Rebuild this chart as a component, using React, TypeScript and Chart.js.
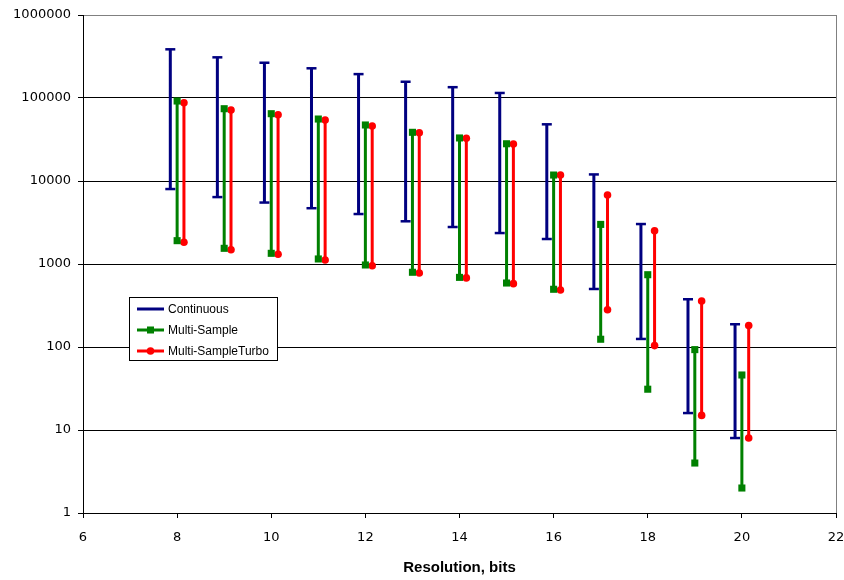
import React, { useEffect, useRef } from "react";
import { Chart, registerables } from "chart.js";

Chart.register(...registerables);

const resolutions = [8, 9, 10, 11, 12, 13, 14, 15, 16, 17, 18, 19, 20];
const continuousHigh = [386000, 309000, 266000, 228000, 194000, 157000, 135000, 115000, 48200, 12000, 3030, 376, 188];
const continuousLow = [8000, 6400, 5500, 4700, 4000, 3270, 2790, 2360, 2000, 500, 125, 16, 8];
const multiHigh = [92000, 74300, 64700, 55800, 47300, 38600, 33000, 28100, 11800, 3000, 743, 93, 46];
const multiLow = [1910, 1545, 1345, 1150, 973, 795, 690, 590, 496, 124, 31, 4, 2];
const turboHigh = [87800, 71600, 62900, 54300, 46000, 38200, 32700, 27900, 11800, 6780, 2520, 358, 181];
const turboLow = [1825, 1487, 1308, 1117, 953, 780, 680, 580, 486, 281, 104, 15, 8];
const yTickValues = [1, 10, 100, 1000, 10000, 100000, 1000000];
const seriesNames = ["Continuous", "Multi-Sample", "Multi-SampleTurbo"];
const seriesColors = ["#000080", "#008000", "#ff0000"];
const xOffsets = [-0.145, 0, 0.145];

const FONT = '"Liberation Sans", Arial, sans-serif';
const TICK_FONT = '"DejaVu Sans", sans-serif';

function buildRanges(lows: number[], highs: number[], off: number) {
  const pts: { x: number; y: number | null }[] = [];
  resolutions.forEach((r, i) => {
    pts.push({ x: r + off, y: lows[i] });
    pts.push({ x: r + off, y: highs[i] });
    pts.push({ x: r + off, y: null });
  });
  return pts;
}

const frameAndLegend = {
  id: "frameAndLegend",
  afterDatasetsDraw(chart: any) {
    const { ctx, chartArea } = chart;
    ctx.save();
    // gray right border
    ctx.strokeStyle = "#808080";
    ctx.lineWidth = 1;
    ctx.beginPath();
    ctx.moveTo(Math.round(chartArea.right) + 0.5, chartArea.top);
    ctx.lineTo(Math.round(chartArea.right) + 0.5, chartArea.bottom);
    ctx.stroke();

    // legend box
    const bx = 129.5, by = 297.5, bw = 148, bh = 63;
    ctx.fillStyle = "#ffffff";
    ctx.fillRect(bx, by, bw, bh);
    ctx.strokeStyle = "#000000";
    ctx.lineWidth = 1;
    ctx.strokeRect(bx, by, bw, bh);
    const rowsY = [309, 330, 351];
    ctx.font = `12px ${FONT}`;
    ctx.textBaseline = "middle";
    ctx.textAlign = "left";
    seriesNames.forEach((name, i) => {
      const y = rowsY[i];
      ctx.strokeStyle = seriesColors[i];
      ctx.lineWidth = 3;
      ctx.beginPath();
      ctx.moveTo(137, y);
      ctx.lineTo(164, y);
      ctx.stroke();
      ctx.fillStyle = seriesColors[i];
      if (i === 1) {
        ctx.fillRect(147, y - 3.5, 7, 7);
      } else if (i === 2) {
        ctx.beginPath();
        ctx.arc(150.5, y, 3.8, 0, Math.PI * 2);
        ctx.fill();
      }
      ctx.fillStyle = "#000000";
      ctx.fillText(name, 168, y + 0.5);
    });
    ctx.restore();
  },
};

export default function App() {
  const canvasRef = useRef<HTMLCanvasElement | null>(null);

  useEffect(() => {
    if (!canvasRef.current) return;
    const chart = new Chart(canvasRef.current, {
      type: "scatter",
      data: {
        datasets: [
          {
            label: seriesNames[0],
            data: buildRanges(continuousLow, continuousHigh, xOffsets[0]),
            showLine: true,
            spanGaps: false,
            borderColor: seriesColors[0],
            backgroundColor: seriesColors[0],
            borderWidth: 3,
            pointStyle: "line",
            pointRadius: 5,
            pointBorderWidth: 2.5,
            pointBorderColor: seriesColors[0],
          },
          {
            label: seriesNames[1],
            data: buildRanges(multiLow, multiHigh, xOffsets[1]),
            showLine: true,
            spanGaps: false,
            borderColor: seriesColors[1],
            backgroundColor: seriesColors[1],
            borderWidth: 3,
            pointStyle: "rect",
            pointRadius: 5,
            pointBorderWidth: 0,
          },
          {
            label: seriesNames[2],
            data: buildRanges(turboLow, turboHigh, xOffsets[2]),
            showLine: true,
            spanGaps: false,
            borderColor: seriesColors[2],
            backgroundColor: seriesColors[2],
            borderWidth: 3,
            pointStyle: "circle",
            pointRadius: 3.8,
            pointBorderWidth: 0,
          },
        ],
      },
      options: {
        animation: false,
        responsive: true,
        maintainAspectRatio: false,
        layout: { padding: { top: 15, right: 0, left: 0, bottom: 0 } },
        plugins: {
          legend: { display: false },
          tooltip: { enabled: false },
        },
        scales: {
          x: {
            type: "linear",
            min: 6,
            max: 22,
            ticks: {
              stepSize: 2,
              color: "#000",
              font: { family: TICK_FONT, size: 13 },
              padding: 12,
              maxRotation: 0,
            },
            grid: {
              drawOnChartArea: false,
              drawTicks: true,
              tickLength: 5,
              tickColor: "#000",
            },
            border: { color: "#000", width: 1 },
            title: {
              display: true,
              text: "Resolution, bits",
              color: "#000",
              font: { family: FONT, size: 15, weight: "bold" },
              padding: { top: 0, bottom: 3 },
            },
            afterFit: (scale: any) => {
              scale.height = 67;
              scale.paddingLeft = 0;
              scale.paddingRight = 8;
            },
          },
          y: {
            type: "logarithmic",
            min: 1,
            max: 1000000,
            afterBuildTicks: (scale: any) => {
              scale.ticks = yTickValues.map((v) => ({ value: v }));
            },
            ticks: {
              color: "#000",
              font: { family: TICK_FONT, size: 13 },
              padding: 7,
              callback: (v: any) => String(Math.round(Number(v))),
            },
            grid: {
              color: (c: any) => (c.tick && c.tick.value === 1000000 ? "#808080" : "#000"),
              lineWidth: 1,
              drawTicks: true,
              tickLength: 5,
              tickColor: "#000",
            },
            border: { color: "#000", width: 1 },
            afterFit: (scale: any) => {
              scale.width = 83;
            },
          },
        },
      },
      plugins: [frameAndLegend],
    });
    return () => chart.destroy();
  }, []);

  return (
    <div style={{ position: "fixed", left: 0, top: 0, width: 844, height: 580, background: "#fff" }}>
      <canvas ref={canvasRef} />
    </div>
  );
}
